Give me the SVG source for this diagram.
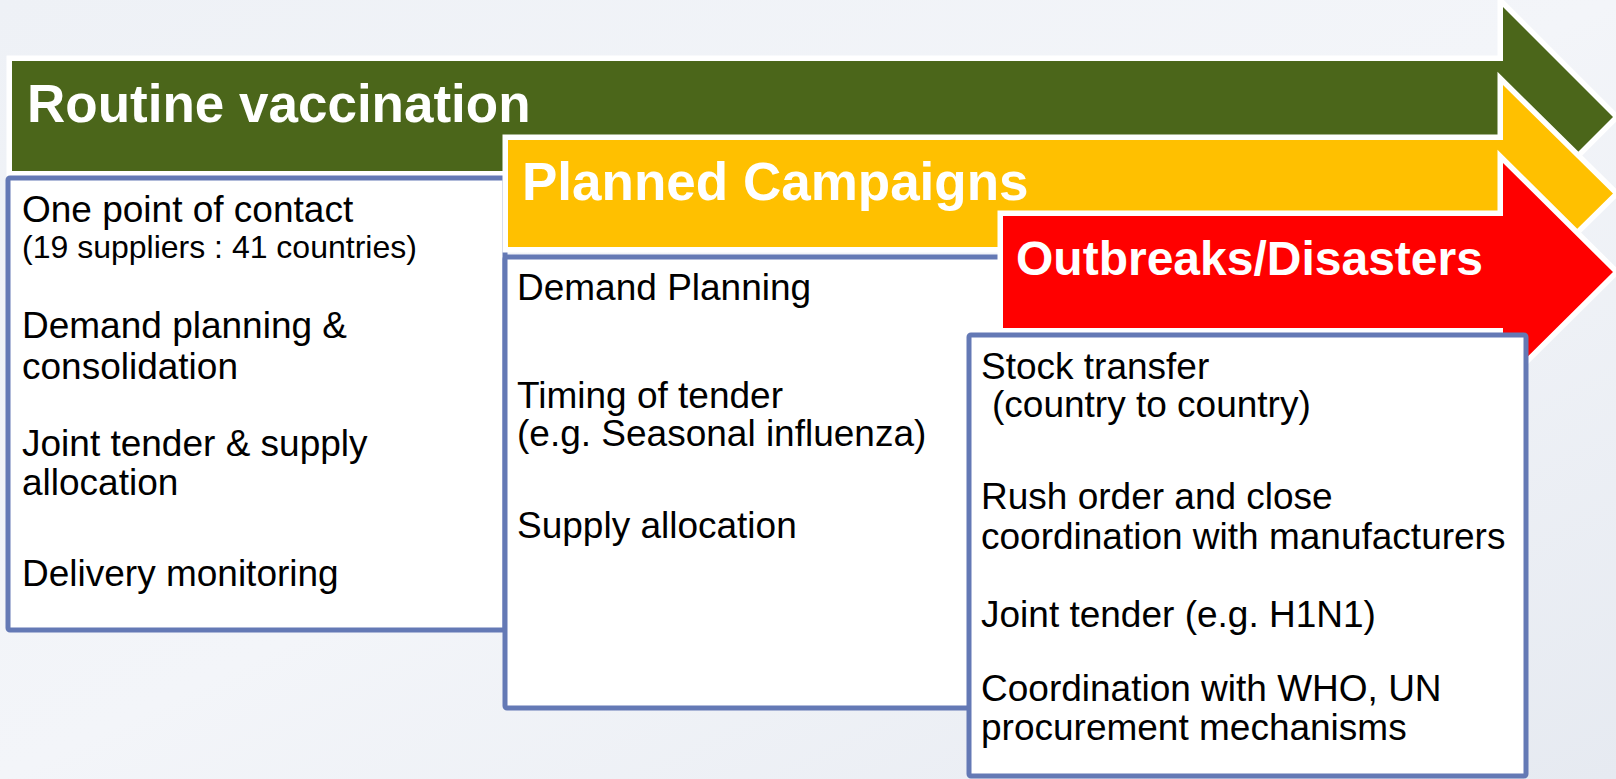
<svg xmlns="http://www.w3.org/2000/svg" width="1616" height="779" viewBox="0 0 1616 779">
  <defs>
    <linearGradient id="bg" x1="0" y1="0" x2="1" y2="1">
      <stop offset="0" stop-color="#eef1f6"/>
      <stop offset="0.5" stop-color="#f3f5f9"/>
      <stop offset="1" stop-color="#e6eaf1"/>
    </linearGradient>
    <style>
      .arrow { stroke: #ffffff; stroke-width: 11; stroke-linejoin: miter; paint-order: stroke; }
      .box { fill: #ffffff; stroke: #6479b5; stroke-width: 5; }
      .title { font-family: "Liberation Sans", Arial, sans-serif; font-weight: bold; fill: #ffffff; }
      .txt { font-family: "Liberation Sans", Arial, sans-serif; font-size: 37px; fill: #000000; }
      .small { font-size: 32px; }
    </style>
  </defs>
  <rect x="0" y="0" width="1616" height="779" fill="url(#bg)"/>
  <g id="routine-arrow">
    <path class="arrow" fill="#4b661a" d="M12,61 H1503 V7 L1613,117 L1503,227 V171 H12 Z"/>
    <text class="title" x="27" y="122" font-size="53">Routine vaccination</text>
  </g>
  <g id="routine-box">
    <rect class="box" x="8" y="178" width="497" height="452" rx="2"/>
    <text class="txt" x="22" y="222">One point of contact</text>
    <text class="txt small" x="22" y="258">(19 suppliers : 41 countries)</text>
    <text class="txt" x="22" y="338">Demand planning &amp;</text>
    <text class="txt" x="22" y="379">consolidation</text>
    <text class="txt" x="22" y="456">Joint tender &amp; supply</text>
    <text class="txt" x="22" y="495">allocation</text>
    <text class="txt" x="22" y="586">Delivery monitoring</text>
  </g>
  <g id="campaigns-arrow">
    <path class="arrow" fill="#ffc000" d="M508,140 H1503 V85 L1613,193.5 L1503,302 V247 H508 Z"/>
    <text class="title" x="522" y="200" font-size="53">Planned Campaigns</text>
  </g>
  <g id="campaigns-box">
    <rect class="box" x="505" y="257" width="505" height="451" rx="2"/>
    <text class="txt" x="517" y="300">Demand Planning</text>
    <text class="txt" x="517" y="408">Timing of tender</text>
    <text class="txt" x="517" y="446">(e.g. Seasonal influenza)</text>
    <text class="txt" x="517" y="538">Supply allocation</text>
  </g>
  <g id="outbreaks-arrow">
    <path class="arrow" fill="#ff0000" d="M1003,216 H1503 V163 L1613,272 L1503,381 V328 H1003 Z"/>
    <text class="title" x="1016" y="275" font-size="48">Outbreaks/Disasters</text>
  </g>
  <g id="outbreaks-box">
    <rect class="box" x="969" y="335" width="557" height="441" rx="2"/>
    <text class="txt" x="981" y="379">Stock transfer</text>
    <text class="txt" x="992" y="417">(country to country)</text>
    <text class="txt" x="981" y="509">Rush order and close</text>
    <text class="txt" x="981" y="549">coordination with manufacturers</text>
    <text class="txt" x="981" y="627">Joint tender (e.g. H1N1)</text>
    <text class="txt" x="981" y="701">Coordination with WHO, UN</text>
    <text class="txt" x="981" y="740">procurement mechanisms</text>
  </g>
  <g id="connectors"/>
</svg>
